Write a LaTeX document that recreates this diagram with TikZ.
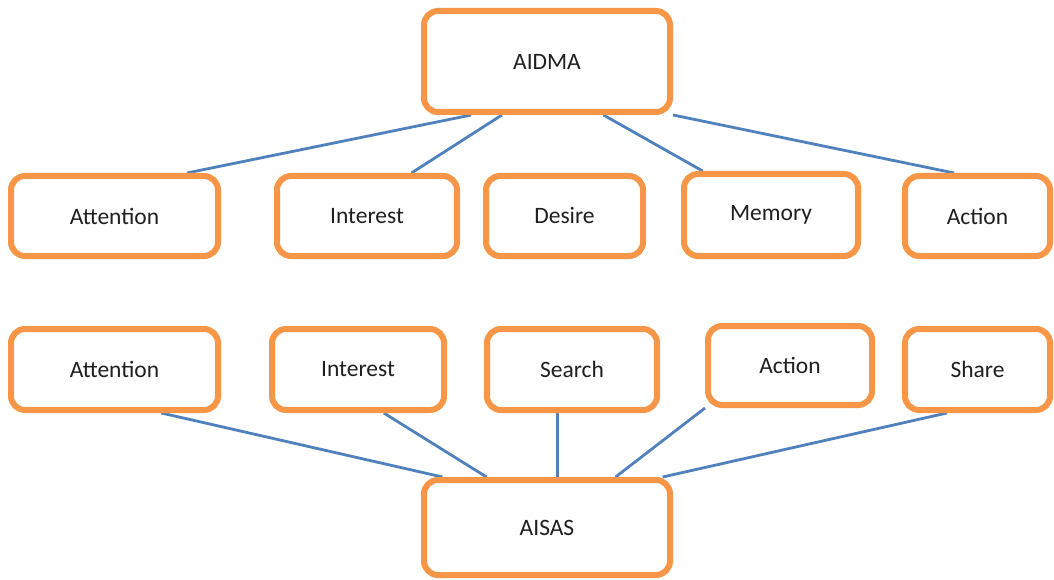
\documentclass[tikz,border=0pt]{standalone}
\usepackage{fontspec}
\setmainfont{Carlito}
\usetikzlibrary{calc,backgrounds}
\definecolor{boxorange}{HTML}{F79646}
\definecolor{linkblue}{HTML}{4F81BD}
\begin{document}
\begin{tikzpicture}[x=1pt,y=-1pt,
  box/.style={draw=boxorange, line width=6pt, rounded corners=14pt, fill=white,
    inner sep=0pt, font=\fontsize{23.5}{27}\selectfont, text=black!88},
  link/.style={draw=linkblue, line width=2.8pt}]
\useasboundingbox (0,0) rectangle (1054,580);

% top
\node[box, minimum width=246pt, minimum height=101pt] (aidma) at (547,61.5) {AIDMA};
% row 1
\node[box, minimum width=207pt, minimum height=80pt] (att1) at (114.5,216) {Attention};
\node[box, minimum width=180pt, minimum height=80pt] (int1) at (367,216) {Interest};
\node[box, minimum width=157pt, minimum height=80pt] (des1) at (564.5,216) {Desire};
\node[box, minimum width=174pt, minimum height=82pt] (mem1) at (771,215) {Memory};
\node[box, minimum width=145pt, minimum height=80pt] (act1) at (977.5,216) {Action};
% row 2
\node[box, minimum width=207pt, minimum height=81pt] (att2) at (114.5,369.5) {Attention};
\node[box, minimum width=172pt, minimum height=81pt] (int2) at (358,369.5) {Interest};
\node[box, minimum width=170pt, minimum height=81pt] (sea2) at (572,369.5) {Search};
\node[box, minimum width=164pt, minimum height=79pt] (act2) at (790,365.5) {Action};
\node[box, minimum width=145pt, minimum height=81pt] (sha2) at (977.5,369.5) {Share};
% bottom
\node[box, minimum width=246pt, minimum height=95pt] (aisas) at (547,527.5) {AISAS};

\begin{scope}[on background layer]
\draw[link] ($(aidma.south west)!0.199!(aidma.south east)$) -- ($(att1.north west)!0.84!(att1.north east)$);
\draw[link] ($(aidma.south west)!0.321!(aidma.south east)$) -- ($(int1.north west)!0.739!(int1.north east)$);
\draw[link] ($(aidma.south west)!0.724!(aidma.south east)$) -- ($(mem1.north west)!0.12!(mem1.north east)$);
\draw[link] (aidma.south east) -- ($(act1.north west)!0.345!(act1.north east)$);

\draw[link] ($(att2.south west)!0.72!(att2.south east)$) -- ($(aisas.north west)!0.085!(aisas.north east)$);
\draw[link] ($(int2.south west)!0.645!(int2.south east)$) -- ($(aisas.north west)!0.26!(aisas.north east)$);
\coordinate (sx) at ($(aisas.north west)!0.5407!(aisas.north east)$);
\draw[link] (sx |- sea2.south) -- (sx);
\draw[link] (act2.south west) -- ($(aisas.north west)!0.772!(aisas.north east)$);
\draw[link] ($(sha2.south west)!0.297!(sha2.south east)$) -- ($(aisas.north west)!0.959!(aisas.north east)$);
\end{scope}
\end{tikzpicture}
\end{document}
